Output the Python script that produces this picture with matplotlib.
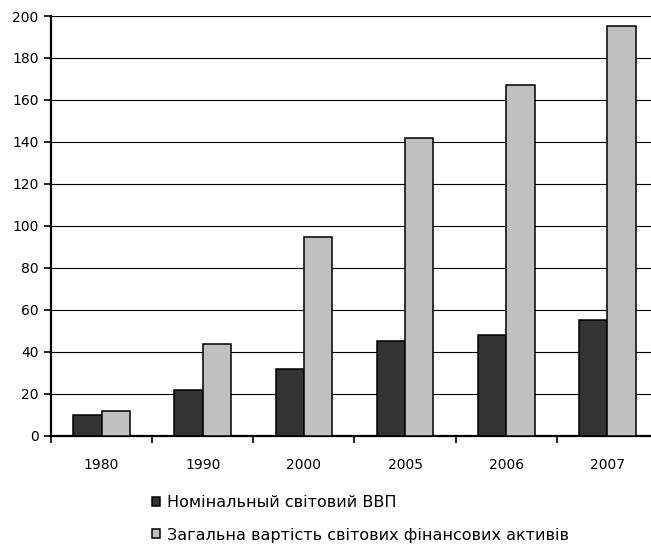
import numpy as np
import matplotlib
matplotlib.use("Agg")
import matplotlib.pyplot as plt
from matplotlib.patches import Patch

plt.rcParams['font.family'] = ['DejaVu Sans']

years = ['1980', '1990', '2000', '2005', '2006', '2007']
gdp = [10, 22, 32, 45, 48, 55]
assets = [12, 43.5, 94.5, 142, 167, 195]
labels = ['Номінальный світовий ВВП', 'Загальна вартість світових фінансових активів']
colors = ['#333333', '#c0c0c0']

W, H = 651, 545
fig = plt.figure(figsize=(W / 100, H / 100), dpi=100)
# axes run past the right edge of the figure, like the original layout
ax = fig.add_axes([51 / W, (H - 435.7) / H, 607 / W, 419.7 / H])

x = np.arange(len(years))
bw = 0.28
ax.bar(x - bw / 2, gdp, bw, color=colors[0], edgecolor='black', linewidth=1.1, zorder=3)
ax.bar(x + bw / 2, assets, bw, color=colors[1], edgecolor='black', linewidth=1.1, zorder=3)

ax.set_xlim(-0.5, len(years) - 0.5)
ax.set_ylim(0, 200)
ax.set_yticks(np.arange(0, 201, 20))
ax.yaxis.grid(True, color='black', linewidth=0.8, zorder=0)
ax.set_axisbelow(True)

# categories are labelled at centres, ticks sit on the boundaries
ax.set_xticks(x)
ax.set_xticklabels(years)
ax.set_xticks(np.arange(len(years) + 1) - 0.5, minor=True)
ax.tick_params(axis='x', which='major', length=0, pad=16, labelsize=10)
ax.tick_params(axis='x', which='minor', length=5, width=1.2, direction='out')
ax.tick_params(axis='y', length=5, width=1.2, direction='out', pad=4, labelsize=10)

for s in ['top', 'right']:
    ax.spines[s].set_visible(False)
for s in ['left', 'bottom']:
    ax.spines[s].set_linewidth(1.6)

handles = [Patch(facecolor=c, edgecolor='black', linewidth=1.1) for c in colors]
fig.legend(handles, labels, loc='upper left', bbox_to_anchor=(152 / W, 1 - 495 / H),
           frameon=False, fontsize=11.5, handlelength=0.5, handleheight=0.5,
           handletextpad=0.45, labelspacing=1.1, borderpad=0, borderaxespad=0)

fig.savefig('out.png', dpi=100)
